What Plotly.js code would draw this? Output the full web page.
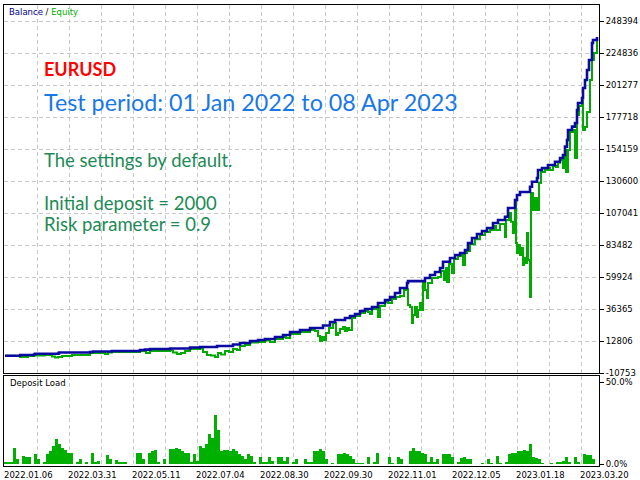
<!DOCTYPE html>
<html>
<head>
<meta charset="utf-8">
<script src="https://cdn.plot.ly/plotly-3.0.1.min.js"></script>
<style>
  html, body { margin: 0; padding: 0; background: #fff; }
  #chart { width: 640px; height: 480px; }
</style>
</head>
<body>
<div id="chart"></div>
<script>
// Balance / equity curve of a tester run, x is the deal sequence index

const balanceDeal = [5, 20, 34, 35, 58, 59, 90, 93, 112, 140, 145, 150, 170, 190, 200, 217, 233, 240, 250, 258,
  265, 275, 283, 290, 300, 310, 323, 330, 335, 345, 350, 355, 360, 365, 372, 378, 385, 390, 395, 400,
  407, 408, 425, 430, 435, 440, 443, 450, 455, 460, 465, 468, 472, 477, 482, 487, 493, 498, 505, 508,
  515, 517, 520, 530, 532, 537, 538, 542, 548, 555, 560, 563, 565, 567, 568, 572, 575, 577, 578, 582,
  583, 585, 587, 589, 592, 593, 597];
const balance = [2000, 2500, 2900, 3400, 3600, 4300, 4700, 5100, 5400, 6200, 6500, 6900, 7300, 8000, 8400, 9100, 10200, 11300, 12800, 13500,
  14300, 15800, 17200, 19400, 20900, 22400, 24200, 26800, 28300, 29700, 31200, 32700, 34900, 36400, 37800, 40800, 43000, 45200, 48100, 51800,
  55500, 56900, 59200, 61400, 63600, 66600, 71200, 73900, 76100, 77600, 79800, 84900, 88600, 91600, 93800, 96000, 99700, 101900, 104300, 110700,
  116600, 120300, 122500, 126400, 130100, 132800, 138700, 140200, 142400, 144800, 147500, 149700, 155900, 160800, 168100, 170600, 173300, 182900, 188000, 191500,
  199100, 205000, 212300, 219700, 232200, 234400, 236600];

const equityDeal = [5, 15, 20, 25, 28, 34, 45, 52, 55, 58, 62, 72, 90, 100, 105, 108, 112, 140, 146, 150,
  170, 173, 177, 181, 185, 190, 200, 203, 207, 211, 215, 218, 221, 225, 229, 233, 237, 240, 245, 250,
  258, 265, 270, 275, 283, 286, 290, 300, 310, 315, 318, 320, 322, 324, 326, 329, 333, 336, 338, 340,
  343, 345, 347, 349, 352, 355, 360, 365, 368, 370, 372, 376, 378, 380, 385, 388, 392, 396, 400, 404,
  406, 408, 410, 412, 413, 415, 417, 418, 420, 422, 423, 425, 427, 428, 432, 438, 441, 444, 446, 447,
  449, 452, 454, 458, 462, 463, 465, 467, 470, 475, 480, 485, 490, 494, 496, 500, 505, 506, 509, 511,
  513, 515, 516, 517, 519, 520, 521, 523, 524, 526, 527, 528, 530, 531, 533, 535, 537, 539, 541, 545,
  548, 550, 553, 556, 558, 560, 563, 565, 566, 568, 570, 573, 575, 577, 579, 582, 583, 585, 587, 588,
  590, 592, 594, 597];
const equity = [2000, 1800, 1000, 1000, 1800, 2100, 2500, 1400, 700, 1000, 1800, 2500, 4000, 4000, 3200, 4300, 4700, 5400, 4000, 5400,
  5800, 4300, 3200, 4000, 5400, 6900, 7300, 4700, 2500, 2100, 1000, 4000, 2900, 5400, 4700, 6900, 6200, 9100, 9900, 11700,
  12100, 13200, 12100, 14300, 15800, 15000, 18000, 19400, 20900, 20200, 16500, 12800, 15800, 13500, 18700, 22400, 26100, 17200, 18700, 21600,
  23100, 20200, 22400, 20900, 29700, 31200, 33400, 34900, 34200, 32700, 36400, 37100, 30500, 38600, 41500, 40800, 43700, 45200, 45900, 50400,
  51000, 39300, 37800, 26100, 31900, 37800, 30500, 35600, 40800, 35600, 55500, 50400, 44500, 55500, 59200, 59900, 64400, 57700, 66600, 56200,
  69500, 62900, 73200, 75400, 76100, 68800, 77600, 79000, 84000, 87800, 90800, 93100, 94500, 97500, 94500, 98900, 89400, 101900, 107000, 100600,
  92300, 115900, 85000, 77600, 83500, 76100, 81300, 68800, 73900, 70200, 92300, 72400, 45200, 121800, 109300, 118100, 109300, 129100, 137200, 138700,
  140200, 138700, 141600, 140900, 144000, 146100, 140200, 153400, 137200, 153400, 166700, 168100, 147500, 179200, 185800, 189500, 168100, 170400, 181400, 181400,
  205000, 219700, 224800, 235900];

// deposit load in %, one bar per 3 deals starting at deal 5
const depositLoad = [1.2, 1.2, 1.2, 10, 3, 0, 5, 4, 4, 0,
  6, 3, 0, 1, 6, 8, 11, 15, 12, 9.5,
  8.5, 7, 7, 0, 1, 3, 0, 1, 0, 6.5,
  1, 2, 0, 0, 5.6, 3, 0, 2.5, 1.5, 1.5,
  1, 0, 0, 0, 6.5, 6.5, 3, 0, 7, 8,
  8.5, 1, 0, 3, 0, 9, 9, 9.5, 9, 8,
  7, 7, 1, 6, 2, 11, 10, 12, 18.5, 16,
  30, 21, 8, 8.5, 8.5, 8, 9, 8, 6, 5,
  3, 6, 5, 1, 0, 4.5, 1, 1, 4, 2,
  0, 4, 4.5, 2, 4, 0, 1, 3, 0, 0,
  3, 1, 1, 8, 8, 9, 8, 3, 0, 0.5,
  0, 6, 6, 6.5, 6, 5, 3, 0.5, 0.5, 0.5,
  0, 4.5, 0, 1, 6.5, 0, 0, 0, 4.5, 0.5,
  0, 4.5, 3, 0, 0, 8, 10, 8, 8, 7,
  6, 1, 4.5, 1, 3, 0, 6, 6, 6, 4,
  0, 1, 3.5, 4.5, 3, 3, 0, 0, 0, 0.5,
  0, 3, 0.5, 0, 5, 0.5, 0, 1, 6, 6.5,
  7, 8, 8, 8.5, 8, 12, 4, 3.5, 3, 0.5,
  0, 0, 0.5, 0, 1, 1, 2, 4.5, 1, 0,
  4, 1, 0, 6, 5.5, 5.5, 3];

const yTicks = [-10753, 12806, 36365, 59924, 83482, 107041, 130600, 154159, 177718, 201277, 224836, 248394];
const gridDeals = [37, 69, 101, 133, 165, 197, 229, 261, 293, 325, 357, 389, 421, 453, 485, 517, 549, 581];
const dateDeals = [5, 69, 133, 197, 261, 325, 389, 453, 517, 581];
const dateLabels = ['2022.01.06', '2022.03.31', '2022.05.11', '2022.07.04', '2022.08.30',
  '2022.09.30', '2022.11.01', '2022.12.05', '2023.01.18', '2023.03.20'];

const axisFont = { family: 'DejaVu Sans, sans-serif', size: 8.5, color: '#000' };
const gridStyle = { showgrid: true, gridcolor: '#c8c8c8', griddash: '4px,3px', gridwidth: 1 };
const noteFont = { family: 'Lato, sans-serif', size: 18.5, color: '#1d8a55' };

const traces = [
  {
    x: equityDeal, y: equity, type: 'scatter', mode: 'lines',
    line: { color: '#00aa00', width: 2, shape: 'hv' },
    xaxis: 'x', yaxis: 'y', hoverinfo: 'skip'
  },
  {
    x: balanceDeal, y: balance, type: 'scatter', mode: 'lines',
    line: { color: '#0a0aa0', width: 2.6, shape: 'hv' },
    xaxis: 'x', yaxis: 'y', hoverinfo: 'skip'
  },
  {
    y: depositLoad, x0: 5, dx: 3, type: 'bar',
    marker: { color: '#00b000', line: { width: 0 } },
    width: 3, xaxis: 'x2', yaxis: 'y2', hoverinfo: 'skip'
  }
];

const annotations = [
  { text: '<span style="color:#00008b">Balance</span> / <span style="color:#00b000">Equity</span>',
    xref: 'paper', yref: 'paper', x: 0.005, y: 0.9848, xanchor: 'left', yanchor: 'middle',
    showarrow: false, font: axisFont },
  { text: '<b>EURUSD</b>', xref: 'paper', yref: 'paper', x: 0.0639, y: 0.8601,
    xanchor: 'left', yanchor: 'middle', showarrow: false,
    font: { family: 'Lato, sans-serif', size: 18, color: '#ff0000' } },
  { text: 'Test period: 01 Jan 2022 to 08 Apr 2023', xref: 'paper', yref: 'paper', x: 0.0639, y: 0.7896,
    xanchor: 'left', yanchor: 'middle', showarrow: false,
    font: { family: 'Lato, sans-serif', size: 23.3, color: '#1a78e6' } },
  { text: 'The settings by default.', xref: 'paper', yref: 'paper', x: 0.0639, y: 0.6638,
    xanchor: 'left', yanchor: 'middle', showarrow: false, font: noteFont },
  { text: 'Initial deposit = 2000', xref: 'paper', yref: 'paper', x: 0.0639, y: 0.5705,
    xanchor: 'left', yanchor: 'middle', showarrow: false, font: noteFont },
  { text: 'Risk parameter = 0.9', xref: 'paper', yref: 'paper', x: 0.0639, y: 0.525,
    xanchor: 'left', yanchor: 'middle', showarrow: false, font: noteFont },
  { text: 'Deposit Load', xref: 'paper', yref: 'paper', x: 0.006, y: 0.18,
    xanchor: 'left', yanchor: 'middle', showarrow: false, font: axisFont }
];
dateDeals.forEach((d, i) => {
  annotations.push({
    text: dateLabels[i], xref: 'x2', yref: 'paper', x: d, y: -0.019,
    xanchor: 'left', yanchor: 'middle', xshift: -2, borderpad: 0, showarrow: false, font: axisFont
  });
});

const layout = {
  width: 640, height: 480,
  margin: { l: 4, r: 41, t: 5, b: 14, pad: 0 },
  paper_bgcolor: '#fff', plot_bgcolor: '#fff',
  showlegend: false,
  bargap: 0,
  xaxis: Object.assign({
    domain: [0, 1], range: [4, 599], anchor: 'y',
    tickmode: 'array', tickvals: gridDeals, showticklabels: false, ticks: '',
    showline: true, mirror: true, linecolor: '#000', linewidth: 1, zeroline: false
  }, gridStyle),
  xaxis2: Object.assign({
    domain: [0, 1], range: [4, 599], anchor: 'y2', matches: 'x',
    tickmode: 'array', tickvals: gridDeals, showticklabels: false, ticks: '',
    showline: true, mirror: true, linecolor: '#000', linewidth: 1, zeroline: false
  }, gridStyle),
  yaxis: Object.assign({
    domain: [0.2017, 1], range: [-10753, 260175], anchor: 'x', side: 'right',
    tickmode: 'array', tickvals: yTicks, ticktext: yTicks.map(String),
    ticks: 'outside', ticklen: 4, tickcolor: '#000', tickfont: axisFont,
    showline: true, mirror: true, linecolor: '#000', linewidth: 1, zeroline: false
  }, gridStyle),
  yaxis2: {
    domain: [0, 0.1952], range: [-1.2, 53.66], anchor: 'x2', side: 'right',
    tickmode: 'array', tickvals: [0, 50], ticktext: ['0.0%', '50.0%'],
    ticks: 'outside', ticklen: 4, tickcolor: '#000', tickfont: axisFont,
    showgrid: false, showline: true, mirror: true, linecolor: '#000', linewidth: 1, zeroline: false
  },
  annotations: annotations
};

Plotly.newPlot('chart', traces, layout, { staticPlot: true, displayModeBar: false });
</script>
</body>
</html>
